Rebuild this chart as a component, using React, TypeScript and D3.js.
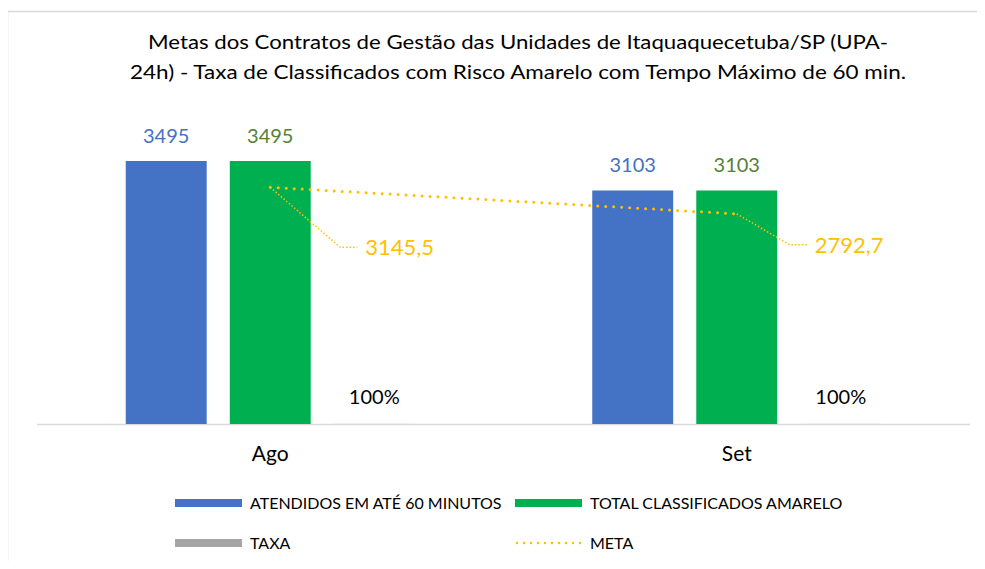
import React from "react";
import * as d3 from "d3";

const categories = ["Ago", "Set"];
const atendidos = [3495, 3103];
const totalAmarelo = [3495, 3103];
const taxa = [1, 1];
const taxaLabels = ["100%", "100%"];
const meta = [3145.5, 2792.7];
const metaLabels = ["3145,5", "2792,7"];
const titleLines = [
  "Metas dos Contratos de Gestão das Unidades de Itaquaquecetuba/SP (UPA-",
  "24h) - Taxa de Classificados com Risco Amarelo com Tempo Máximo de 60 min.",
];
const legendItems = [
  { name: "ATENDIDOS EM ATÉ 60 MINUTOS", color: "#4472C4", type: "bar" },
  { name: "TOTAL CLASSIFICADOS AMARELO", color: "#00B050", type: "bar" },
  { name: "TAXA", color: "#A5A5A5", type: "bar" },
  { name: "META", color: "#FFC000", type: "line" },
];

const W = 985;
const H = 569;
const FONT = "Lato, 'Open Sans', sans-serif";

export default function App() {
  const x0 = d3.scaleBand().domain(categories).range([37, 970]).padding(0);
  const series = ["a", "t", "x"];
  const groupW = 289;
  const x1 = d3
    .scaleBand()
    .domain(series)
    .range([0, groupW])
    .paddingInner(0.222)
    .paddingOuter(0);
  const y = d3.scaleLinear().domain([0, 4000]).range([424, 123]);

  const cx = (c: string) => (x0(c) as number) + x0.bandwidth() / 2;
  const gx = (c: string) => cx(c) - groupW / 2;

  const metaLine = d3
    .line<number>()
    .x((_, i) => cx(categories[i]))
    .y((d) => y(d));

  return (
    <div style={{ margin: -8 }}>
      <svg width={W} height={H} style={{ display: "block", fontFamily: FONT }}>
        <rect x={0} y={0} width={W} height={H} fill="#fff" />
        <path d="M7.5,600 V11.5 H1000" fill="none" stroke="#D9D9D9" strokeWidth={1.5} />
        {titleLines.map((t, i) => (
          <text
            key={i}
            x={518}
            y={49 + i * 30}
            textAnchor="middle"
            fontSize={19.5}
            fill="#000"
            textLength={i === 0 ? 740 : 776}
            lengthAdjust="spacingAndGlyphs"
          >
            {t}
          </text>
        ))}
        {/* baseline */}
        <line x1={37} x2={970} y1={424.5} y2={424.5} stroke="#D9D9D9" strokeWidth={1.5} />
        {categories.map((c, i) => {
          const g = gx(c);
          const bw = x1.bandwidth();
          return (
            <g key={c}>
              <rect x={g + (x1("a") as number)} y={y(atendidos[i])} width={bw} height={y(0) - y(atendidos[i])} fill="#4472C4" />
              <rect x={g + (x1("t") as number)} y={y(totalAmarelo[i])} width={bw} height={y(0) - y(totalAmarelo[i])} fill="#00B050" />
              <rect x={g + (x1("x") as number)} y={y(taxa[i])} width={bw} height={y(0) - y(taxa[i])} fill="#A5A5A5" />
              <text x={g + (x1("a") as number) + bw / 2} y={y(atendidos[i]) - 18} textAnchor="middle" fontSize={20} fill="#4472C4">
                {atendidos[i]}
              </text>
              <text x={g + (x1("t") as number) + bw / 2} y={y(totalAmarelo[i]) - 18} textAnchor="middle" fontSize={20} fill="#548235">
                {totalAmarelo[i]}
              </text>
              <text x={g + (x1("x") as number) + bw / 2} y={y(taxa[i]) - 20} textAnchor="middle" fontSize={20} fill="#000">
                {taxaLabels[i]}
              </text>
              <text x={cx(c)} y={461} textAnchor="middle" fontSize={21} fill="#000">
                {c}
              </text>
            </g>
          );
        })}
        <path
          d={metaLine(meta) || ""}
          fill="none"
          stroke="#FFC000"
          strokeWidth={3}
          strokeLinecap="round"
          strokeDasharray="0 8"
        />
        {/* meta labels with leader lines */}
        {categories.map((c, i) => {
          const px = cx(c);
          const py = y(meta[i]);
          const dx = i === 0 ? 70 : 53;
          const dy = i === 0 ? 60 : 31;
          const lx = px + dx;
          const ly = py + dy;
          return (
            <g key={"m" + c}>
              <path
                d={`M${px},${py} L${lx},${ly} L${lx + 17},${ly}`}
                fill="none"
                stroke="#FFC000"
                strokeWidth={1.5}
                strokeDasharray="1.5 2"
              />
              <text x={lx + 25} y={ly + 8} fontSize={22} fill="#FFC000">
                {metaLabels[i]}
              </text>
            </g>
          );
        })}
        {/* legend */}
        {legendItems.map((it, i) => {
          const lx = i % 2 === 0 ? 175 : 515;
          const ly = i < 2 ? 503 : 543;
          return (
            <g key={it.name}>
              {it.type === "bar" ? (
                <rect x={lx} y={ly - 4} width={67} height={8} fill={it.color} />
              ) : (
                <line x1={lx + 2} x2={lx + 67} y1={ly} y2={ly} stroke={it.color} strokeWidth={2.5} strokeLinecap="round" strokeDasharray="0 7" />
              )}
              <text x={lx + 75} y={ly + 6} fontSize={16} fill="#000">
                {it.name}
              </text>
            </g>
          );
        })}
      </svg>
    </div>
  );
}
